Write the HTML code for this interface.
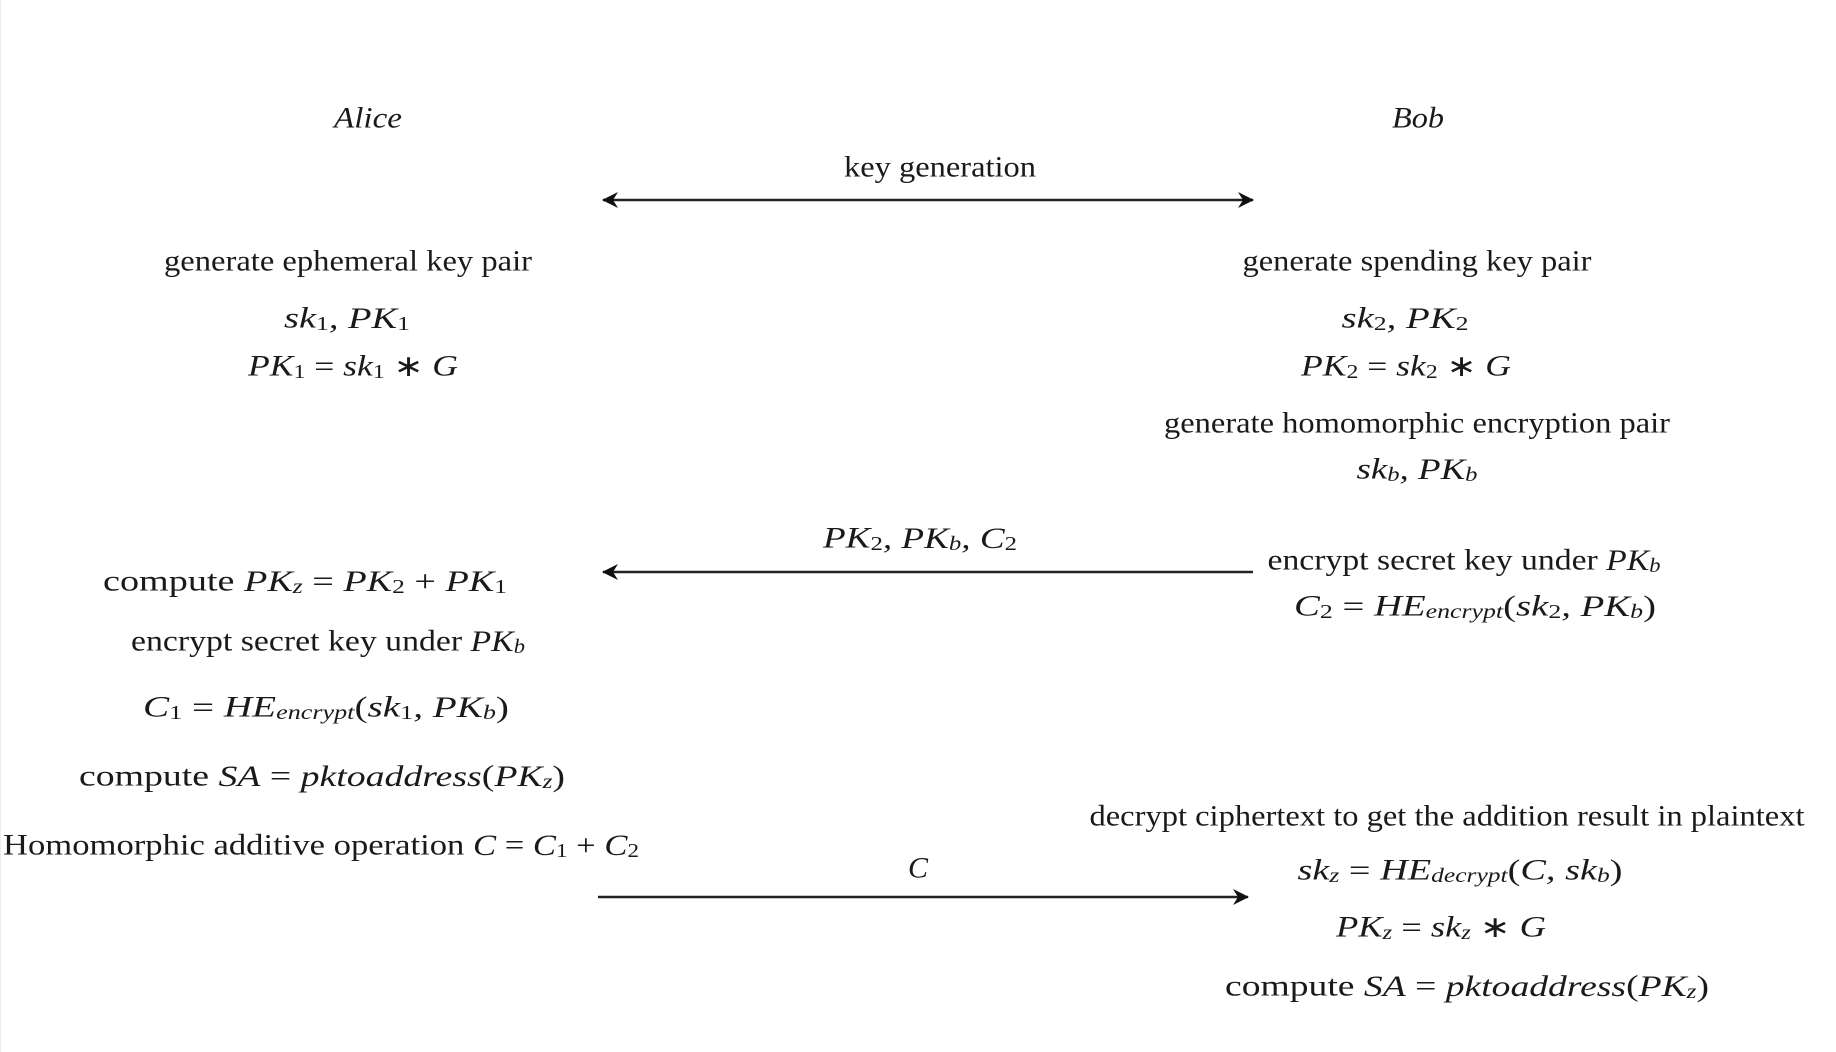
<!DOCTYPE html>
<html><head><meta charset="utf-8"><style>
html,body{margin:0;padding:0;background:#fff;}
svg{display:block}
text{font-family:"Liberation Serif",serif;font-size:30px;fill:#1a1a1a;text-anchor:middle;dominant-baseline:central;}
.i{font-style:italic}
</style></head><body>
<svg width="1836" height="1052" viewBox="0 0 1836 1052" xmlns="http://www.w3.org/2000/svg">
<defs>
<marker id="ah" markerWidth="18" markerHeight="18" refX="15" refY="8" orient="auto-start-reverse" markerUnits="userSpaceOnUse">
<path d="M0,0 L16,8 L0,16 L5,8 Z" fill="#111"/>
</marker>
</defs>
<line x1="0.5" y1="0" x2="0.5" y2="1052" stroke="#eee" stroke-width="1"/>

<text x="368" y="118" class="i" textLength="68" lengthAdjust="spacingAndGlyphs">Alice</text>
<text x="1418" y="118" class="i" textLength="52" lengthAdjust="spacingAndGlyphs">Bob</text>

<text x="940" y="167" textLength="192" lengthAdjust="spacingAndGlyphs">key generation</text>
<line x1="603" y1="200" x2="1253" y2="200" stroke="#222" stroke-width="2.5" marker-start="url(#ah)" marker-end="url(#ah)"/>

<text x="348" y="261" textLength="368" lengthAdjust="spacingAndGlyphs">generate ephemeral key pair</text>
<text x="347" y="318" class="i" textLength="126" lengthAdjust="spacingAndGlyphs">sk<tspan font-style="normal" font-size="20" dy="6">1</tspan><tspan dy="-6">, PK</tspan><tspan font-style="normal" font-size="20" dy="6">1</tspan></text>
<text x="353" y="366" class="i" textLength="210" lengthAdjust="spacingAndGlyphs">PK<tspan font-style="normal" font-size="20" dy="6">1</tspan><tspan dy="-6" font-style="normal"> = </tspan>sk<tspan font-style="normal" font-size="20" dy="6">1</tspan><tspan dy="-6" font-style="normal"> ∗ </tspan>G</text>

<text x="1417" y="261" textLength="349" lengthAdjust="spacingAndGlyphs">generate spending key pair</text>
<text x="1405" y="318" class="i" textLength="127" lengthAdjust="spacingAndGlyphs">sk<tspan font-style="normal" font-size="20" dy="6">2</tspan><tspan dy="-6">, PK</tspan><tspan font-style="normal" font-size="20" dy="6">2</tspan></text>
<text x="1406" y="366" class="i" textLength="210" lengthAdjust="spacingAndGlyphs">PK<tspan font-style="normal" font-size="20" dy="6">2</tspan><tspan dy="-6" font-style="normal"> = </tspan>sk<tspan font-style="normal" font-size="20" dy="6">2</tspan><tspan dy="-6" font-style="normal"> ∗ </tspan>G</text>
<text x="1417" y="423" textLength="506" lengthAdjust="spacingAndGlyphs">generate homomorphic encryption pair</text>
<text x="1417" y="469" class="i" textLength="121" lengthAdjust="spacingAndGlyphs">sk<tspan font-size="20" dy="6">b</tspan><tspan dy="-6">, PK</tspan><tspan font-size="20" dy="6">b</tspan></text>

<text x="920" y="538" class="i" textLength="194" lengthAdjust="spacingAndGlyphs">PK<tspan font-style="normal" font-size="20" dy="6">2</tspan><tspan dy="-6">, PK</tspan><tspan font-size="20" dy="6">b</tspan><tspan dy="-6">, C</tspan><tspan font-style="normal" font-size="20" dy="6">2</tspan></text>
<line x1="1253" y1="572" x2="603" y2="572" stroke="#222" stroke-width="2.5" marker-end="url(#ah)"/>

<text x="1464" y="560" textLength="393" lengthAdjust="spacingAndGlyphs">encrypt secret key under <tspan class="i">PK</tspan><tspan class="i" font-size="20" dy="6">b</tspan></text>
<text x="1475" y="606" class="i" textLength="362" lengthAdjust="spacingAndGlyphs">C<tspan font-style="normal" font-size="20" dy="6">2</tspan><tspan dy="-6" font-style="normal"> = </tspan>HE<tspan font-size="20" dy="6">encrypt</tspan><tspan dy="-6" font-style="normal">(</tspan>sk<tspan font-style="normal" font-size="20" dy="6">2</tspan><tspan dy="-6">, PK</tspan><tspan font-size="20" dy="6">b</tspan><tspan dy="-6" font-style="normal">)</tspan></text>

<text x="305" y="581" textLength="404" lengthAdjust="spacingAndGlyphs">compute <tspan class="i">PK</tspan><tspan class="i" font-size="20" dy="6">z</tspan><tspan dy="-6"> = </tspan><tspan class="i">PK</tspan><tspan font-size="20" dy="6">2</tspan><tspan dy="-6"> + </tspan><tspan class="i">PK</tspan><tspan font-size="20" dy="6">1</tspan></text>
<text x="328" y="641" textLength="394" lengthAdjust="spacingAndGlyphs">encrypt secret key under <tspan class="i">PK</tspan><tspan class="i" font-size="20" dy="6">b</tspan></text>
<text x="326" y="707" class="i" textLength="366" lengthAdjust="spacingAndGlyphs">C<tspan font-style="normal" font-size="20" dy="6">1</tspan><tspan dy="-6" font-style="normal"> = </tspan>HE<tspan font-size="20" dy="6">encrypt</tspan><tspan dy="-6" font-style="normal">(</tspan>sk<tspan font-style="normal" font-size="20" dy="6">1</tspan><tspan dy="-6">, PK</tspan><tspan font-size="20" dy="6">b</tspan><tspan dy="-6" font-style="normal">)</tspan></text>
<text x="322" y="776" textLength="486" lengthAdjust="spacingAndGlyphs">compute  <tspan class="i">SA</tspan> = <tspan class="i">pktoaddress</tspan>(<tspan class="i">PK</tspan><tspan class="i" font-size="20" dy="6">z</tspan><tspan dy="-6">)</tspan></text>
<text x="321" y="845" textLength="636" lengthAdjust="spacingAndGlyphs">Homomorphic additive operation  <tspan class="i">C</tspan> = <tspan class="i">C</tspan><tspan font-size="20" dy="6">1</tspan><tspan dy="-6"> + </tspan><tspan class="i">C</tspan><tspan font-size="20" dy="6">2</tspan></text>

<text x="918" y="868" class="i">C</text>
<line x1="598" y1="897" x2="1248" y2="897" stroke="#222" stroke-width="2.5" marker-end="url(#ah)"/>

<text x="1447" y="816" textLength="715" lengthAdjust="spacingAndGlyphs">decrypt ciphertext to get the addition result in plaintext</text>
<text x="1460" y="870" class="i" textLength="325" lengthAdjust="spacingAndGlyphs">sk<tspan font-size="20" dy="6">z</tspan><tspan dy="-6" font-style="normal"> = </tspan>HE<tspan font-size="20" dy="6">decrypt</tspan><tspan dy="-6" font-style="normal">(</tspan>C, sk<tspan font-size="20" dy="6">b</tspan><tspan dy="-6" font-style="normal">)</tspan></text>
<text x="1441" y="927" class="i" textLength="210" lengthAdjust="spacingAndGlyphs">PK<tspan font-size="20" dy="6">z</tspan><tspan dy="-6" font-style="normal"> = </tspan>sk<tspan font-size="20" dy="6">z</tspan><tspan dy="-6" font-style="normal"> ∗ </tspan>G</text>
<text x="1467" y="986" textLength="484" lengthAdjust="spacingAndGlyphs">compute  <tspan class="i">SA</tspan> = <tspan class="i">pktoaddress</tspan>(<tspan class="i">PK</tspan><tspan class="i" font-size="20" dy="6">z</tspan><tspan dy="-6">)</tspan></text>
</svg>
</body></html>
